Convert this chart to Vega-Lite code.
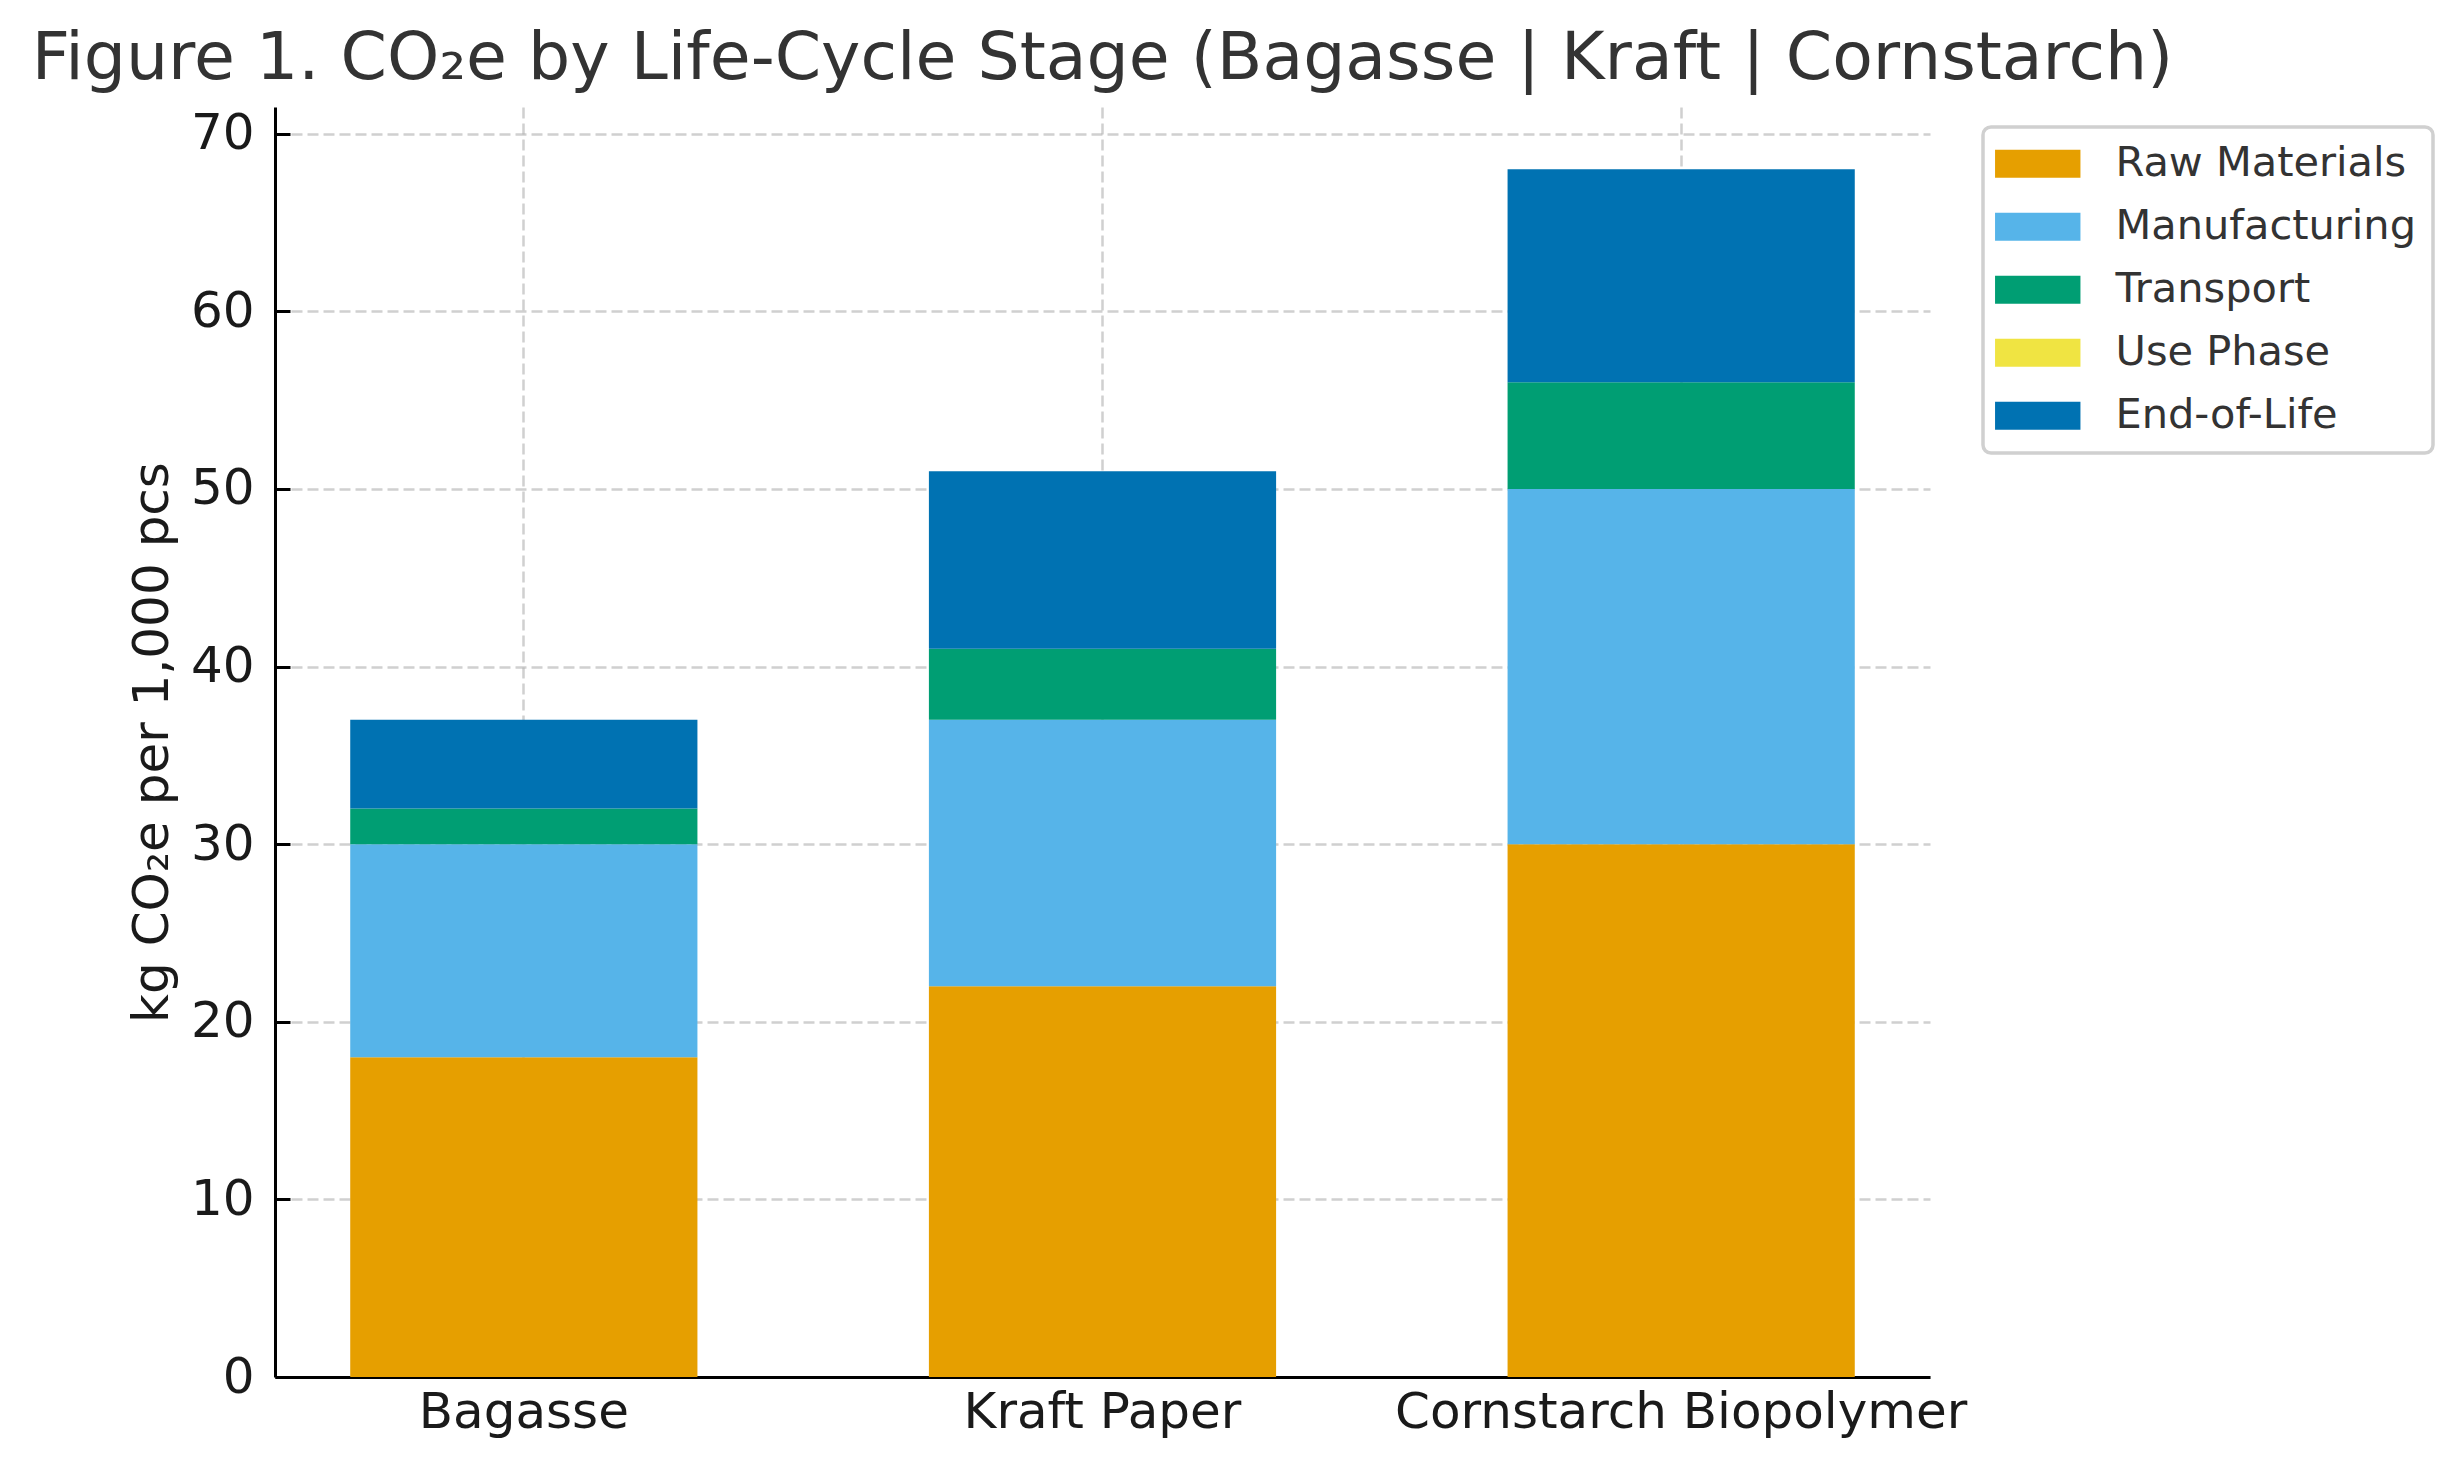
{
  "$schema": "https://vega.github.io/schema/vega-lite/v6.json",
  "width": 1655,
  "height": 1270,
  "autosize": {"type": "none"},
  "padding": {"left": 275, "top": 107, "right": 534, "bottom": 92},
  "background": "white",
  "title": {
    "text": "Figure 1. CO₂e by Life-Cycle Stage (Bagasse | Kraft | Cornstarch)",
    "anchor": "middle",
    "frame": "group",
    "font": "DejaVu Sans",
    "fontSize": 66.5,
    "fontWeight": "normal",
    "color": "#333333",
    "offset": 15
  },
  "data": {
    "values": [
      {"material": "Bagasse", "stage": "Raw Materials", "seq": 1, "value": 18},
      {"material": "Bagasse", "stage": "Manufacturing", "seq": 2, "value": 12},
      {"material": "Bagasse", "stage": "Transport", "seq": 3, "value": 2},
      {"material": "Bagasse", "stage": "Use Phase", "seq": 4, "value": 0},
      {"material": "Bagasse", "stage": "End-of-Life", "seq": 5, "value": 5},
      {"material": "Kraft Paper", "stage": "Raw Materials", "seq": 1, "value": 22},
      {"material": "Kraft Paper", "stage": "Manufacturing", "seq": 2, "value": 15},
      {"material": "Kraft Paper", "stage": "Transport", "seq": 3, "value": 4},
      {"material": "Kraft Paper", "stage": "Use Phase", "seq": 4, "value": 0},
      {"material": "Kraft Paper", "stage": "End-of-Life", "seq": 5, "value": 10},
      {"material": "Cornstarch Biopolymer", "stage": "Raw Materials", "seq": 1, "value": 30},
      {"material": "Cornstarch Biopolymer", "stage": "Manufacturing", "seq": 2, "value": 20},
      {"material": "Cornstarch Biopolymer", "stage": "Transport", "seq": 3, "value": 6},
      {"material": "Cornstarch Biopolymer", "stage": "Use Phase", "seq": 4, "value": 0},
      {"material": "Cornstarch Biopolymer", "stage": "End-of-Life", "seq": 5, "value": 12}
    ]
  },
  "mark": {"type": "bar"},
  "encoding": {
    "x": {
      "field": "material",
      "type": "nominal",
      "sort": null,
      "scale": {"paddingInner": 0.4, "paddingOuter": 0.13},
      "axis": {
        "title": null,
        "labelAngle": 0,
        "labelPadding": 25,
        "labelLimit": 2000
      }
    },
    "y": {
      "field": "value",
      "type": "quantitative",
      "stack": "zero",
      "scale": {"domain": [0, 71.5], "nice": false, "zero": true},
      "axis": {
        "title": "kg CO₂e per 1,000 pcs",
        "values": [0, 10, 20, 30, 40, 50, 60, 70],
        "labelPadding": 36,
        "titlePadding": 13
      }
    },
    "color": {
      "field": "stage",
      "type": "nominal",
      "scale": {
        "domain": ["Raw Materials", "Manufacturing", "Transport", "Use Phase", "End-of-Life"],
        "range": ["#E69F00", "#56B4E9", "#009E73", "#F0E442", "#0072B2"]
      },
      "legend": {
        "title": null,
        "orient": "none",
        "legendX": 1708,
        "legendY": 20,
        "symbolType": "M-3.05,-1H3.05V1H-3.05Z",
        "symbolSize": 784,
        "symbolOffset": 18,
        "symbolStrokeWidth": 0,
        "symbolOpacity": 1,
        "labelOffset": 57,
        "labelFont": "DejaVu Sans",
        "labelFontSize": 41.5,
        "labelColor": "#333333",
        "labelLimit": 1000,
        "rowPadding": 20,
        "padding": 16,
        "strokeColor": "#d0d0d0",
        "cornerRadius": 8,
        "fillColor": "white",
        "encode": {
          "legend": {"update": {"strokeWidth": {"value": 3.5}}}
        }
      }
    },
    "order": {"field": "seq", "type": "quantitative"}
  },
  "config": {
    "view": {"stroke": null},
    "font": "DejaVu Sans",
    "axis": {
      "zindex": 1,
      "grid": true,
      "gridColor": "#b0b0b0",
      "gridOpacity": 0.6,
      "gridWidth": 2.5,
      "gridDash": [11, 5],
      "domainColor": "#000000",
      "domainWidth": 3,
      "tickColor": "#000000",
      "tickWidth": 3,
      "tickSize": -15,
      "labelFont": "DejaVu Sans",
      "labelFontSize": 50,
      "labelColor": "#1a1a1a",
      "titleFont": "DejaVu Sans",
      "titleFontSize": 50,
      "titleFontWeight": "normal",
      "titleColor": "#1a1a1a"
    }
  }
}
